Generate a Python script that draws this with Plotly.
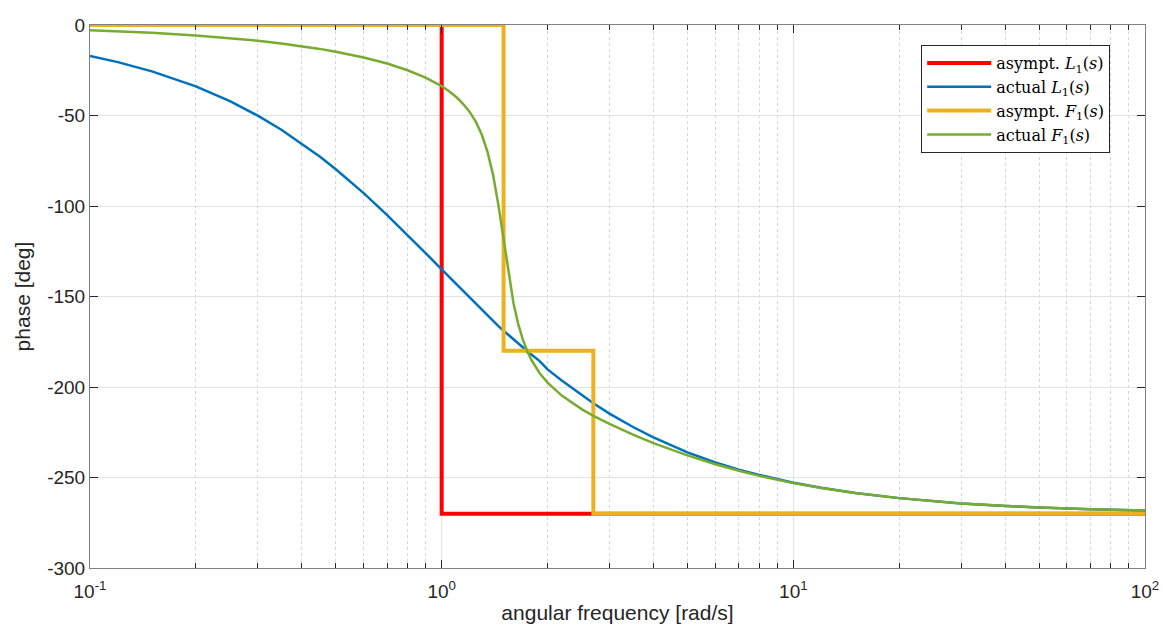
import plotly.graph_objects as go

# Frequency grid [rad/s]
w_act = [0.1, 0.12, 0.15, 0.2, 0.25, 0.3, 0.35, 0.4, 0.45, 0.5, 0.6, 0.7, 0.8, 0.9, 1.0,
         1.05, 1.1, 1.15, 1.2, 1.25, 1.3, 1.35, 1.4, 1.45, 1.5, 1.55, 1.6, 1.65, 1.7,
         1.75, 1.8, 1.9, 2.0, 2.2, 2.5, 2.7, 3.0, 3.5, 4.0, 5.0, 6.0, 7.0, 8.0, 10.0,
         12.0, 15.0, 20.0, 30.0, 40.0, 50.0, 70.0, 100.0]

# Actual phase of L1(s) [deg]
phase_L1 = [-17.1, -20.5, -25.6, -33.9, -42.1, -50.1, -57.9, -65.8, -72.7, -79.7, -92.9,
            -105.0, -116.0, -126.0, -135.0, -139.2, -143.1, -147.0, -150.6, -154.0,
            -157.5, -160.7, -163.8, -166.4, -168.9, -171.4, -173.7, -175.9, -178.0,
            -180.8, -182.1, -185.7, -190.3, -196.6, -204.6, -209.0, -214.7, -222.1,
            -227.8, -236.1, -241.7, -245.7, -248.6, -252.9, -255.7, -258.6, -261.4,
            -264.3, -265.7, -266.6, -267.5, -268.3]

# Actual phase of F1(s) [deg]
phase_F1 = [-2.9, -3.5, -4.3, -5.8, -7.3, -8.7, -10.2, -11.7, -13.2, -14.8, -18.0,
            -21.3, -25.0, -29.1, -33.8, -36.6, -39.8, -43.5, -47.9, -53.4, -60.5,
            -70.1, -82.8, -99.5, -119.1, -138.1, -153.6, -165.1, -173.6, -180.0,
            -185.1, -192.4, -197.6, -204.9, -212.2, -215.9, -220.4, -226.3, -231.0,
            -237.8, -242.7, -246.3, -249.1, -253.1, -255.8, -258.6, -261.4, -264.3,
            -265.7, -266.6, -267.5, -268.3]

# Asymptotic approximations
w_asym_L1 = [0.1, 1.0, 1.0, 100.0]
phase_asym_L1 = [0, 0, -270, -270]
w_asym_F1 = [0.1, 1.5, 1.5, 2.7, 2.7, 100.0]
phase_asym_F1 = [0, 0, -180, -180, -270, -270]

# Tick labels
x_tickvals = [0.1, 1, 10, 100]
x_ticktext = ["10<sup>-1</sup>", "10<sup>0</sup>", "10<sup>1</sup>", "10<sup>2</sup>"]
y_tickvals = [-300, -250, -200, -150, -100, -50, 0]
y_ticktext = ["-300", "-250", "-200", "-150", "-100", "-50", "0"]

fig = go.Figure()
fig.add_trace(go.Scatter(x=w_asym_L1, y=phase_asym_L1, mode="lines",
                         line=dict(color="#ff0000", width=4),
                         name="asympt. <i>L</i><sub>1</sub>(<i>s</i>)", cliponaxis=False))
fig.add_trace(go.Scatter(x=w_act, y=phase_L1, mode="lines",
                         line=dict(color="#0072bd", width=2.5),
                         name="actual <i>L</i><sub>1</sub>(<i>s</i>)", cliponaxis=False))
fig.add_trace(go.Scatter(x=w_asym_F1, y=phase_asym_F1, mode="lines",
                         line=dict(color="#edb120", width=4),
                         name="asympt. <i>F</i><sub>1</sub>(<i>s</i>)", cliponaxis=False))
fig.add_trace(go.Scatter(x=w_act, y=phase_F1, mode="lines",
                         line=dict(color="#77ac30", width=2.5),
                         name="actual <i>F</i><sub>1</sub>(<i>s</i>)", cliponaxis=False))

axis_common = dict(
    showline=True, linecolor="#808080", linewidth=1, mirror="ticks",
    ticks="inside", tickcolor="#262626", ticklen=8, automargin=False,
    tickfont=dict(family="Liberation Sans, Arial", size=19, color="#262626"),
    gridcolor="#e3e3e3", gridwidth=1, zeroline=False,
)

fig.update_xaxes(
    type="log", range=[-1, 2], tickvals=x_tickvals, ticktext=x_ticktext,
    ticklabelstandoff=6,
    title=dict(text="angular frequency [rad/s]", standoff=4,
               font=dict(family="Liberation Sans, Arial", size=21, color="#262626")),
    minor=dict(dtick="D1", ticks="inside", ticklen=5, tickcolor="#262626",
               showgrid=True, gridcolor="#d6d6d6", griddash="dot", gridwidth=1),
    **axis_common,
)
fig.update_yaxes(
    range=[-300, 0], tickvals=y_tickvals, ticktext=y_ticktext,
    title=dict(text="phase [deg]", standoff=10,
               font=dict(family="Liberation Sans, Arial", size=21, color="#262626")),
    **axis_common,
)

fig.update_layout(
    width=1163, height=626,
    margin=dict(l=90, r=18, t=25, b=58),
    paper_bgcolor="white", plot_bgcolor="white",
    legend=dict(x=0.967, y=0.963, xanchor="right", yanchor="top",
                bgcolor="white", bordercolor="#262626", borderwidth=1,
                font=dict(family="DejaVu Serif", size=16, color="#000000"),
                itemwidth=64, tracegroupgap=0),
    showlegend=True,
)

fig.write_html("out.html")
